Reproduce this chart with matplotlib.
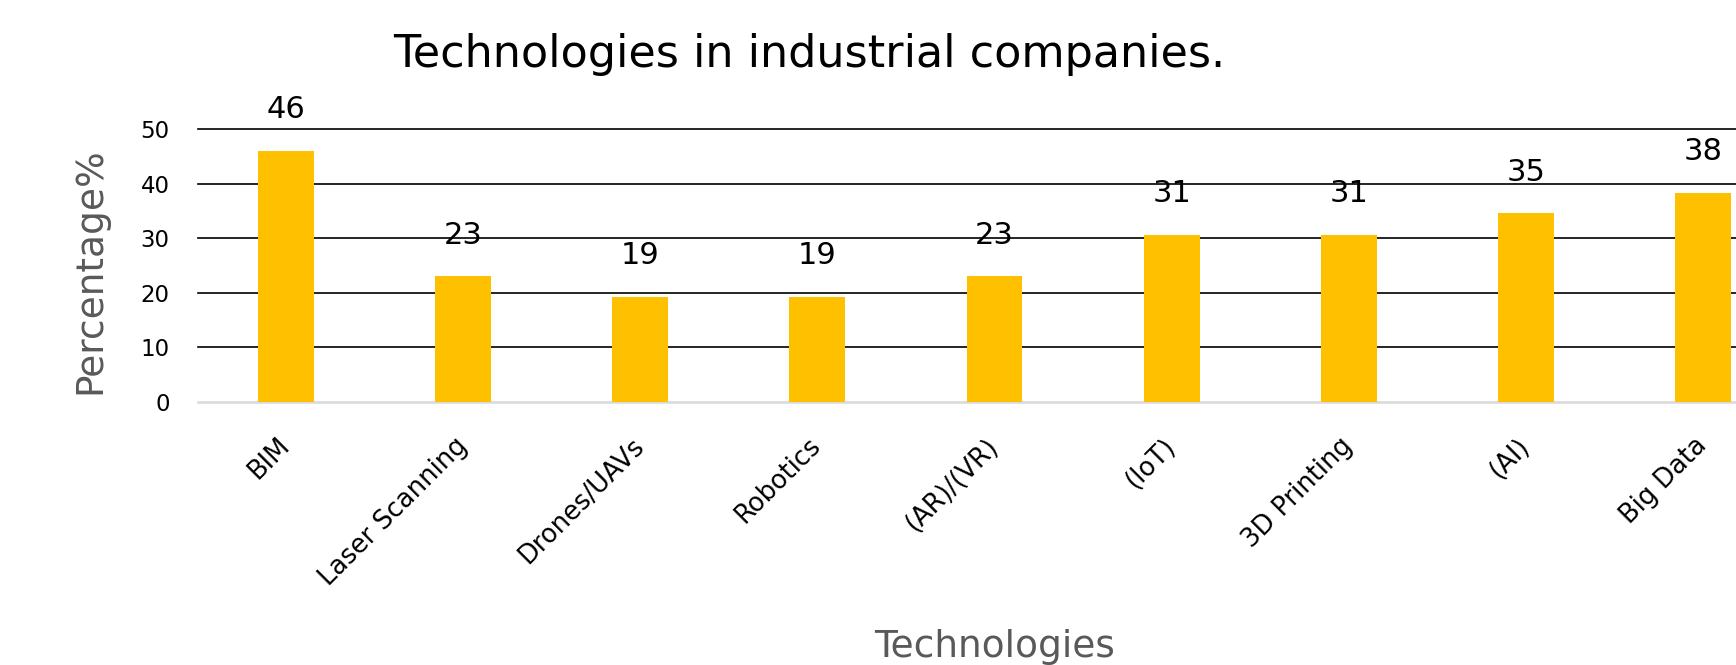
"""
Bar chart: technologies used in industrial companies
"""
import matplotlib
matplotlib.use("Agg")
import matplotlib.pyplot as plt

# Data
technologies = ["BIM", "Laser Scanning", "Drones/UAVs", "Robotics", "(AR)/(VR)",
                "(IoT)", "3D Printing", "(AI)", "Big Data"]
percentages = [46, 23, 19.2, 19.2, 23, 30.6, 30.6, 34.6, 38.3]
y_ticks = [0, 10, 20, 30, 40, 50]

BAR_COLOR = "#FFC000"
GRAY_TEXT = "#595959"

W, H = 1736, 665
fig = plt.figure(figsize=(W / 100, H / 100), dpi=100)

# axes run past the right edge, as in the (cropped) original
left_px, right_px = 197.5, 1791.5
top_px, bottom_px = 129.3, 401.7
ax = fig.add_axes([left_px / W, 1 - bottom_px / H,
                   (right_px - left_px) / W, (bottom_px - top_px) / H])

x = list(range(len(technologies)))
bars = ax.bar(x, percentages, width=0.315, color=BAR_COLOR, zorder=3)

ax.set_xlim(-0.5, len(technologies) - 0.5)
ax.set_ylim(0, 50)
ax.set_yticks(y_ticks)

# horizontal gridlines in black, light gray baseline
for v in y_ticks[1:]:
    ax.axhline(v, color="black", lw=1.2, zorder=1, clip_on=False)
for s in ["top", "right", "left"]:
    ax.spines[s].set_visible(False)
ax.spines["bottom"].set_color("#d9d9d9")
ax.spines["bottom"].set_linewidth(1.8)

ax.tick_params(axis="y", length=0, pad=20, labelsize=16.5)
ax.tick_params(axis="x", length=0, pad=29)
ax.set_xticks(x)
ax.set_xticklabels(technologies, rotation=45, ha="right", va="center",
                   rotation_mode="anchor", fontsize=18.5)

# value labels on top of bars
for xi, v in zip(x, percentages):
    ax.annotate(f"{v:.0f}", (xi, v), xytext=(0, 23.5), textcoords="offset points",
                ha="center", va="baseline", fontsize=22)

ax.set_ylabel("Percentage%", fontsize=27, color=GRAY_TEXT)
ax.yaxis.set_label_coords(-0.056, 0.48)
ax.yaxis.label.set_va("bottom")

ax.set_xlabel("Technologies", fontsize=27, color=GRAY_TEXT)
ax.xaxis.set_label_coords(0.5, -0.937)
ax.xaxis.label.set_va("baseline")

fig.text(809 / W, 1 - 67 / H, "Technologies in industrial companies.",
         ha="center", va="baseline", fontsize=32)

fig.savefig("out.png", dpi=100)
plt.close(fig)
